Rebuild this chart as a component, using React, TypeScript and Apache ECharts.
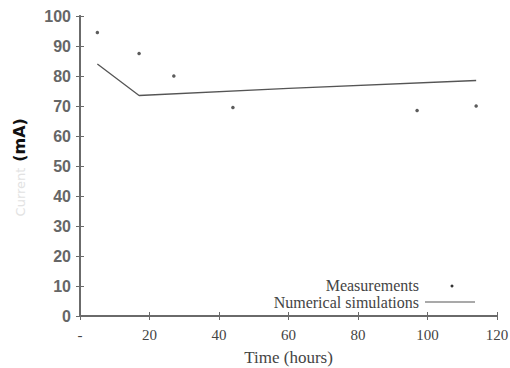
import React, { useEffect, useRef } from "react";
import * as echarts from "echarts";

const measureTimes = [5, 17, 27, 44, 97, 114];
const measureCurrent = [94.5, 87.5, 80, 69.5, 68.5, 70];
const simTimes = [5, 17, 60, 114];
const simCurrent = [84, 73.5, 75.9, 78.5];
const xTicks = [0, 20, 40, 60, 80, 100, 120];
const yTicks = [0, 10, 20, 30, 40, 50, 60, 70, 80, 90, 100];
const legendNames = ["Measurements", "Numerical simulations"];

export default function App() {
  const ref = useRef<HTMLDivElement>(null);
  useEffect(() => {
    if (!ref.current) return;
    const chart = echarts.init(ref.current, undefined, { renderer: "svg" });
    const axisColor = "#6a6a6a";
    const common = {
      type: "value",
      axisLine: { show: true, lineStyle: { color: axisColor, width: 1.8 } },
      axisTick: { show: true, inside: true, length: 4, lineStyle: { color: axisColor, width: 1 } },
      splitLine: { show: false },
    };
    chart.setOption({
      animation: false,
      backgroundColor: "#ffffff",
      grid: { left: 80, right: 13, top: 16, bottom: 52, containLabel: false, outerBoundsMode: "none" },
      xAxis: [
        {
          ...common,
          position: "bottom",
          min: xTicks[0],
          max: xTicks[xTicks.length - 1],
          interval: 20,
          name: "Time (hours)",
          nameLocation: "middle",
          nameGap: 33,
          nameTextStyle: { fontFamily: "Liberation Serif", fontSize: 17, color: "#444" },
          axisLabel: {
            margin: 11,
            fontFamily: "Liberation Serif",
            fontSize: 15,
            color: "#444",
            formatter: (v: number) => (v === 0 ? "-" : String(v)),
          },
        },
        {
          ...common,
          position: "top",
          min: xTicks[0],
          max: xTicks[xTicks.length - 1],
          interval: 20,
          axisLabel: { show: false },
        },
      ],
      yAxis: [
        {
          ...common,
          position: "left",
          min: yTicks[0],
          max: yTicks[yTicks.length - 1],
          interval: 10,
          axisLabel: {
            margin: 9,
            fontFamily: "Liberation Sans",
            fontWeight: "bold",
            fontSize: 16,
            color: "#666",
          },
        },
        {
          ...common,
          position: "right",
          min: yTicks[0],
          max: yTicks[yTicks.length - 1],
          interval: 10,
          axisLabel: { show: false },
        },
      ],
      series: [
        {
          name: legendNames[0],
          type: "scatter",
          data: measureTimes.map((t, i) => [t, measureCurrent[i]]),
          symbol: "circle",
          symbolSize: 3.5,
          itemStyle: { color: "#333" },
        },
        {
          name: legendNames[1],
          type: "line",
          data: simTimes.map((t, i) => [t, simCurrent[i]]),
          showSymbol: false,
          symbol: "none",
          lineStyle: { color: "#555", width: 1.3 },
        },
      ],
      graphic: [
        {
          type: "text",
          x: 19,
          y: 140,
          rotation: Math.PI / 2,
          style: {
            text: "(mA)",
            fontFamily: "DejaVu Sans",
            fontWeight: "bold",
            fontSize: 16,
            fill: "#111",
            align: "center",
            verticalAlign: "middle",
          },
        },
        {
          type: "text",
          x: 20,
          y: 192,
          rotation: Math.PI / 2,
          style: {
            text: "Current",
            fontFamily: "DejaVu Sans",
            fontSize: 13,
            fill: "#e2e2e2",
            align: "center",
            verticalAlign: "middle",
          },
        },
        {
          type: "text",
          x: 419,
          y: 285,
          style: {
            text: legendNames[0],
            fontFamily: "Liberation Serif",
            fontSize: 16,
            lineHeight: 16,
            fill: "#444",
            align: "right",
            verticalAlign: "middle",
          },
        },
        {
          type: "text",
          x: 419,
          y: 302,
          style: {
            text: legendNames[1],
            fontFamily: "Liberation Serif",
            fontSize: 16,
            lineHeight: 16,
            fill: "#444",
            align: "right",
            verticalAlign: "middle",
          },
        },
        { type: "circle", shape: { cx: 452, cy: 286, r: 1.5 }, style: { fill: "#333" } },
        { type: "line", shape: { x1: 425, y1: 302, x2: 475, y2: 302 }, style: { stroke: "#555", lineWidth: 1.2 } },
      ],
    });
    return () => chart.dispose();
  }, []);
  return <div ref={ref} style={{ position: "fixed", left: 0, top: 0, width: 510, height: 368 }} />;
}
